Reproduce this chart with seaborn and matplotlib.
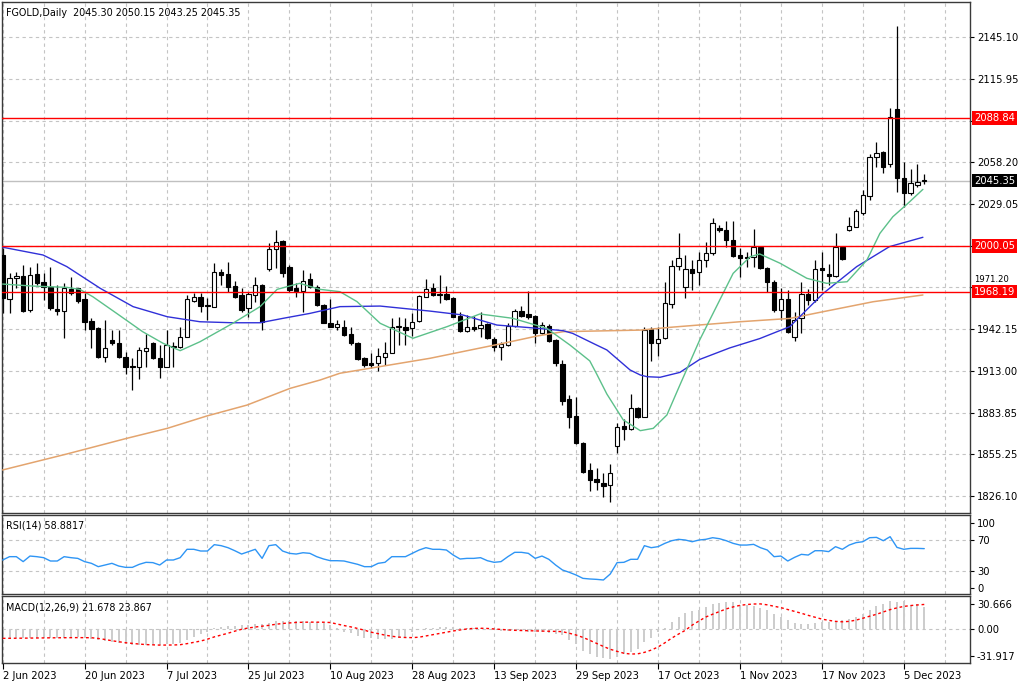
import numpy as np
import matplotlib
matplotlib.use("Agg")
import matplotlib.pyplot as plt
import matplotlib.transforms as mtransforms
import seaborn as sns

# ---------------- data ----------------
title_text = "FGOLD,Daily  2045.30 2050.15 2043.25 2045.35"
rsi_title = "RSI(14) 58.8817"
macd_title = "MACD(12,26,9) 21.678 23.867"

opens = [1993.6, 1962.8, 1977.4, 1979.0, 1955.4, 1980.2, 1975.0, 1971.1, 1955.8, 1954.7,
         1969.7, 1970.4, 1962.8, 1947.9, 1943.1, 1922.5, 1934.5, 1932.2, 1922.9, 1916.4,
         1915.5, 1927.1, 1932.6, 1921.7, 1916.0, 1930.5, 1929.4, 1936.8, 1961.8, 1964.6,
         1958.8, 1957.7, 1982.0, 1980.2, 1972.0, 1965.8, 1956.5, 1965.8, 1972.7, 1983.6,
         1997.5, 2003.5, 1985.5, 1970.4, 1968.8, 1976.7, 1971.6, 1958.8, 1946.6, 1943.8,
         1943.8, 1938.7, 1932.2, 1921.7, 1918.7, 1918.3, 1922.9, 1925.7, 1943.8, 1943.8,
         1942.6, 1947.9, 1964.6, 1970.4, 1966.3, 1966.3, 1963.9, 1951.2, 1941.0, 1943.8,
         1943.1, 1945.4, 1935.2, 1929.4, 1931.0, 1944.2, 1954.9, 1952.3, 1951.2, 1939.1,
         1944.2, 1934.5, 1917.8, 1893.3, 1881.7, 1862.7, 1844.1, 1837.7, 1835.3, 1833.7,
         1860.8, 1874.7, 1872.4, 1887.0, 1881.2, 1941.9, 1932.2, 1935.7, 1959.3, 1986.2,
         1971.6, 1983.6, 1982.0, 1990.1, 1994.7, 2012.6, 2010.9, 2004.0, 1993.6, 1992.4,
         1992.4, 1999.4, 1984.3, 1975.0, 1955.3, 1963.0, 1936.3, 1949.5, 1966.2, 1962.3,
         1984.3, 1980.1, 1979.0, 1999.4, 2010.9, 2013.2, 2022.5, 2034.6, 2061.9, 2065.4,
         2056.8, 2094.8, 2046.9, 2036.9, 2042.2, 2045.30]
highs = [1998.2, 1980.8, 1982.0, 1986.6, 1985.5, 1987.8, 1980.8, 1985.5, 1972.7, 1973.9,
         1978.5, 1970.9, 1966.9, 1949.6, 1943.8, 1948.4, 1941.5, 1941.5, 1926.4, 1921.7,
         1929.9, 1938.4, 1933.3, 1931.0, 1941.5, 1933.3, 1943.8, 1965.8, 1966.9, 1966.9,
         1963.5, 1987.8, 1983.6, 1988.9, 1975.7, 1970.4, 1968.1, 1978.5, 1973.2, 2001.7,
         2011.0, 2004.0, 1986.6, 1974.4, 1983.2, 1980.8, 1972.7, 1959.5, 1962.8, 1948.4,
         1948.4, 1943.8, 1933.3, 1922.9, 1925.2, 1928.7, 1933.3, 1949.6, 1950.7, 1949.6,
         1953.0, 1965.8, 1976.7, 1974.4, 1979.7, 1972.0, 1964.4, 1954.2, 1951.9, 1951.2,
         1954.2, 1946.1, 1936.8, 1933.3, 1946.1, 1955.8, 1958.1, 1968.6, 1951.7, 1947.2,
         1945.6, 1935.0, 1920.6, 1896.3, 1895.1, 1863.8, 1848.8, 1845.3, 1842.3, 1848.3,
         1877.0, 1879.4, 1897.0, 1887.7, 1943.8, 1943.8, 1943.8, 1975.0, 1990.1, 2008.6,
         1993.6, 1990.1, 1995.9, 2002.8, 2019.1, 2014.4, 2017.2, 2017.2, 1998.2, 1995.9,
         2011.4, 1999.9, 1985.5, 1976.2, 1970.4, 1969.2, 1954.2, 1975.0, 1969.7, 1990.1,
         1995.9, 1987.1, 2009.1, 1999.8, 2020.2, 2025.3, 2038.8, 2063.8, 2072.3, 2065.9,
         2095.5, 2152.7, 2058.4, 2053.1, 2056.8, 2050.15]
lows = [1953.0, 1953.0, 1970.4, 1954.0, 1954.2, 1972.7, 1962.3, 1955.4, 1951.9, 1935.7,
        1965.8, 1960.0, 1941.5, 1928.7, 1921.7, 1919.4, 1931.0, 1921.7, 1910.9, 1899.8,
        1907.2, 1916.0, 1921.2, 1907.9, 1915.5, 1916.0, 1928.7, 1936.3, 1961.1, 1954.2,
        1948.4, 1957.2, 1972.7, 1968.1, 1963.5, 1954.2, 1950.7, 1961.1, 1941.5, 1982.7,
        1984.3, 1978.5, 1968.1, 1964.6, 1954.2, 1970.4, 1958.1, 1946.1, 1943.3, 1941.5,
        1937.3, 1931.0, 1920.6, 1916.0, 1914.8, 1913.2, 1917.1, 1925.2, 1931.0, 1931.0,
        1937.3, 1947.2, 1964.1, 1965.1, 1960.0, 1962.3, 1950.3, 1940.3, 1940.3, 1941.0,
        1936.8, 1935.2, 1927.1, 1920.6, 1930.3, 1943.3, 1950.3, 1948.9, 1932.2, 1938.7,
        1933.3, 1916.4, 1889.3, 1873.1, 1862.2, 1841.8, 1829.8, 1830.2, 1825.6, 1822.1,
        1856.2, 1865.0, 1872.0, 1880.0, 1880.7, 1920.1, 1923.4, 1935.0, 1956.5, 1983.1,
        1963.4, 1969.2, 1972.7, 1985.5, 1993.6, 2009.8, 1999.4, 1992.4, 1978.5, 1985.5,
        1985.5, 1983.6, 1968.1, 1954.2, 1948.4, 1939.1, 1933.5, 1939.1, 1959.0, 1961.1,
        1969.2, 1972.7, 1978.5, 1990.1, 2010.5, 2012.8, 2021.4, 2031.8, 2055.0, 2050.8,
        2055.0, 2037.6, 2027.2, 2035.3, 2041.1, 2043.25]
closes = [1963.5, 1977.4, 1979.0, 1954.7, 1979.7, 1974.4, 1971.6, 1956.5, 1954.7, 1970.4,
          1966.9, 1961.8, 1947.2, 1942.1, 1922.9, 1928.7, 1932.2, 1922.5, 1915.5, 1915.5,
          1927.6, 1928.7, 1921.7, 1916.0, 1931.0, 1929.4, 1936.8, 1962.8, 1964.6, 1958.1,
          1958.1, 1982.0, 1979.7, 1971.6, 1964.6, 1955.4, 1966.5, 1972.7, 1947.2, 1997.5,
          2002.8, 1980.8, 1969.2, 1968.6, 1975.7, 1971.6, 1958.8, 1946.6, 1943.8, 1945.4,
          1938.0, 1932.6, 1921.1, 1917.1, 1917.1, 1923.4, 1925.7, 1943.8, 1944.2, 1941.5,
          1947.2, 1965.1, 1969.7, 1965.8, 1965.8, 1962.8, 1950.7, 1940.8, 1943.8, 1942.2,
          1944.9, 1935.7, 1929.9, 1931.7, 1944.2, 1954.9, 1951.2, 1950.3, 1939.1, 1944.9,
          1934.0, 1918.3, 1892.3, 1881.2, 1863.1, 1843.0, 1837.2, 1836.0, 1833.0, 1842.3,
          1873.8, 1872.4, 1887.0, 1880.7, 1941.5, 1932.2, 1935.0, 1960.0, 1986.2, 1991.2,
          1983.6, 1981.3, 1990.1, 1994.7, 2016.0, 2010.9, 2004.0, 1992.9, 1991.7, 1991.7,
          1999.4, 1984.3, 1975.0, 1955.3, 1963.0, 1940.3, 1948.4, 1966.5, 1962.3, 1983.6,
          1983.1, 1979.0, 1999.4, 1990.6, 2013.7, 2024.4, 2035.3, 2061.4, 2064.7, 2055.0,
          2089.7, 2046.9, 2036.9, 2043.4, 2044.5, 2045.35]

# moving averages (bar position, price)
ma_fast_bar = [0, 4.4, 9.4, 11.3, 13.2, 16.7, 20.5, 23.5, 26.0, 28.9, 33.7, 37.7, 40.2, 43.5,
               46.5, 49.4, 51.9, 55.3, 60.1, 65.1, 69.9, 74.7, 79.7, 83.1, 86.0, 87.0, 88.5,
               90.9, 93.4, 95.3, 97.3, 99.2, 102.1, 107.0, 109.5, 110.9, 113.9, 117.8, 120.7,
               123.7, 126.6, 128.5, 130.4, 132.5, 134.8]
ma_fast_val = [1973.4, 1972.0, 1971.1, 1969.7, 1964.6, 1953.0, 1940.3, 1932.2, 1927.1, 1933.3,
               1946.1, 1957.7, 1969.7, 1973.9, 1969.7, 1968.1, 1961.2, 1946.1, 1935.7, 1943.8,
               1952.6, 1949.6, 1942.6, 1931.0, 1920.0, 1911.0, 1897.0, 1879.0, 1871.5, 1873.1,
               1882.4, 1903.2, 1934.5, 1980.8, 1992.4, 1994.3, 1987.8, 1977.4, 1973.9, 1975.0,
               1990.1, 2008.6, 2020.2, 2029.0, 2039.2]
ma_mid_bar = [0, 5.9, 9.4, 14.3, 19.1, 24.1, 28.9, 33.7, 37.7, 41.1, 45.0, 49.4, 55.3, 62.6,
              67.4, 72.4, 77.2, 82.1, 83.5, 87.0, 88.5, 91.9, 93.4, 94.4, 96.3, 99.2, 102.1,
              106.5, 110.9, 115.3, 120.2, 125.1, 129.9, 134.8]
ma_mid_val = [1999.0, 1993.6, 1985.5, 1970.4, 1957.7, 1950.7, 1947.2, 1946.5, 1946.5, 1949.6,
              1953.0, 1957.7, 1958.1, 1954.6, 1951.9, 1944.9, 1943.1, 1941.0, 1939.1, 1931.0,
              1927.6, 1913.7, 1910.2, 1909.0, 1908.6, 1912.0, 1921.0, 1929.0, 1935.5, 1943.8,
              1966.9, 1985.5, 1999.4, 2005.9]
ma_slow_bar = [0, 9.4, 18.2, 24.1, 29.9, 35.8, 42.1, 46.5, 49.4, 62.6, 73.3, 78.3, 82.1, 93.4,
               97.7, 108.0, 115.3, 120.2, 127.5, 134.8]
ma_slow_val = [1844.2, 1855.3, 1866.2, 1873.1, 1881.7, 1889.3, 1900.9, 1906.7, 1911.4, 1921.8,
               1932.2, 1937.3, 1940.3, 1941.4, 1943.3, 1947.2, 1949.5, 1954.2, 1961.1, 1965.8]

rsi_vals = [44.2, 48.5, 48.5, 42.1, 49.3, 48.5, 47.2, 42.9, 42.9, 48.5,
            47.2, 46.3, 42.1, 39.9, 35.6, 37.7, 39.9, 36.4, 34.7, 34.7,
            38.6, 41.2, 40.8, 37.7, 44.2, 44.2, 47.2, 58.0, 58.0, 55.8,
            55.8, 64.0, 62.7, 60.1, 56.2, 51.9, 55.0, 58.0, 46.3, 62.7,
            64.0, 55.8, 52.8, 51.9, 53.6, 52.8, 48.5, 45.5, 43.3, 43.3,
            42.9, 40.8, 38.6, 35.6, 35.6, 39.9, 41.2, 48.5, 48.5, 48.5,
            52.8, 57.1, 60.1, 58.0, 58.0, 57.1, 50.6, 45.5, 46.3, 46.3,
            47.2, 43.3, 41.2, 42.1, 48.5, 54.1, 54.1, 52.8, 46.3, 49.3,
            45.1, 37.7, 31.3, 28.3, 24.8, 20.5, 19.7, 19.2, 18.4, 26.1,
            40.8, 41.2, 45.1, 45.1, 62.7, 60.1, 61.4, 65.7, 69.1, 70.9,
            70.0, 67.8, 70.0, 70.9, 73.0, 71.7, 69.1, 65.7, 63.5, 63.5,
            64.4, 60.1, 57.1, 48.5, 49.3, 42.9, 47.6, 51.5, 50.6, 56.2,
            56.2, 55.0, 61.4, 58.0, 63.5, 66.6, 67.8, 73.0, 73.4, 69.1,
            74.3, 60.5, 58.0, 59.2, 59.2, 58.88]

macd_main = [-8.5, -8.6, -8.5, -8.7, -8.2, -8.0, -8.0, -8.3, -8.5, -8.2,
             -7.8, -7.6, -8.0, -9.0, -10.0, -11.5, -12.5, -13.5, -14.5, -15.0,
             -15.0, -15.0, -15.0, -15.2, -14.5, -14.0, -13.0, -10.0, -7.5, -5.0,
             -3.0, 1.0, 2.0, 3.0, 3.5, 4.0, 4.0, 5.0, 5.0, 6.0,
             8.0, 8.0, 8.0, 7.5, 7.5, 7.0, 7.0, 6.5, 4.0, 1.5,
             -3.0, -4.0, -6.0, -8.0, -8.5, -9.0, -9.5, -9.0, -8.5, -7.0,
             -3.0, 0.5, 1.5, 1.5, 2.0, 2.5, 2.0, 1.5, 1.5, 1.0,
             1.0, 0.5, -0.5, -1.5, -2.0, -2.0, -2.0, -2.5, -2.5, -3.0,
             -4.0, -5.0, -5.5, -10.0, -14.0, -21.0, -24.0, -27.0, -28.0, -29.0,
             -27.0, -24.0, -22.0, -18.5, -12.0, -8.5, -3.0, 1.5, 7.4, 12.2,
             15.4, 17.6, 18.6, 21.8, 24.0, 25.6, 26.6, 26.0, 23.4, 23.4,
             22.8, 20.8, 18.6, 14.4, 11.5, 9.0, 6.4, 5.4, 4.8, 5.8,
             7.0, 7.4, 8.0, 9.0, 9.9, 12.2, 14.5, 18.6, 22.4, 24.0,
             27.2, 26.6, 27.2, 23.4, 24.0, 21.678]
macd_signal = [-8.7, -8.7, -8.6, -8.5, -8.5, -8.4, -8.3, -8.2, -8.2, -8.1,
               -8.0, -8.0, -8.0, -8.1, -8.8, -9.8, -11.0, -12.0, -12.9, -13.6,
               -14.2, -14.7, -15.0, -15.2, -15.2, -15.1, -14.8, -13.8, -12.6, -11.3,
               -9.5, -7.3, -5.6, -3.8, -1.8, 0.0, 1.3, 2.2, 3.0, 3.8,
               4.8, 5.6, 6.1, 6.6, 6.8, 6.9, 6.9, 6.8, 6.5, 5.0,
               3.6, 2.3, 0.8, -0.9, -2.8, -4.2, -5.6, -6.7, -7.5, -7.9,
               -8.0, -7.6, -6.4, -5.2, -4.0, -2.8, -1.6, -0.6, 0.3, 0.9,
               1.0, 0.8, 0.3, -0.1, -0.6, -1.0, -1.2, -1.4, -1.6, -1.7,
               -1.9, -2.0, -2.3, -3.8, -5.5, -7.8, -10.6, -13.6, -16.5, -19.2,
               -21.2, -23.0, -23.8, -23.6, -22.2, -20.0, -17.0, -13.0, -8.5, -4.6,
               -1.0, 4.0, 8.0, 11.8, 14.5, 17.0, 19.6, 21.5, 23.0, 23.8,
               24.3, 24.4, 23.5, 22.2, 20.8, 19.0, 17.2, 15.4, 13.4, 11.6,
               9.8, 8.6, 7.6, 7.2, 7.6, 8.8, 10.6, 12.6, 14.4, 16.6,
               18.9, 20.6, 22.0, 22.8, 23.4, 23.867]

level_prices = [2088.84, 2000.05, 1968.19]
last_price = 2045.35

price_ticks = [2145.10, 2115.95, 2087.00, 2058.20, 2029.05, 2000.00,
               1971.20, 1942.15, 1913.00, 1883.85, 1855.25, 1826.10]
price_tick_labels = ["2145.10", "2115.95", "", "2058.20", "2029.05", "",
                     "", "1942.15", "1913.00", "1883.85", "1855.25", "1826.10"]
partly_hidden_label = "1971.20"

date_labels = ["2 Jun 2023", "20 Jun 2023", "7 Jul 2023", "25 Jul 2023", "10 Aug 2023",
               "28 Aug 2023", "13 Sep 2023", "29 Sep 2023", "17 Oct 2023", "1 Nov 2023",
               "17 Nov 2023", "5 Dec 2023"]
date_label_bars = [0, 12, 24, 36, 48, 60, 72, 84, 96, 108, 120, 132]

rsi_tick_pos = [91.9, 70, 30, 8.1]
rsi_tick_labels = ["100", "70", "30", "0"]
macd_tick_pos = [24.3, 0, -25.7]
macd_tick_labels = ["30.666", "0.00", "-31.917"]

# ---------------- styling ----------------
sns.set_theme(style="white")
plt.rcParams["font.family"] = ["DejaVu Sans"]
FS = 7.2
GRID_C = "#c4c4c4"
GRID_LS = (0, (3, 3))
FRAME_C = "#3a3a3a"

fig = plt.figure(figsize=(10.24, 6.83), dpi=100)
fig.patch.set_facecolor("white")
W, H = 1024.0, 683.0
left, width = 2 / W, 968 / W
ax = fig.add_axes([left, 1 - 513 / H, width, 511 / H])
ax_rsi = fig.add_axes([left, 1 - 594 / H, width, 79 / H])
ax_macd = fig.add_axes([left, 1 - 663 / H, width, 67 / H])

bars = np.arange(len(opens))
xlim = (-0.1, 141.7)

for a in (ax, ax_rsi, ax_macd):
    a.set_facecolor("white")
    a.set_xlim(*xlim)
    for s in a.spines.values():
        s.set_color(FRAME_C)
        s.set_linewidth(1.0)
        s.set_visible(True)
    for gx in np.arange(0, 142, 6):
        a.axvline(gx, color=GRID_C, ls=GRID_LS, lw=0.8, zorder=0)
    a.yaxis.tick_right()
    a.tick_params(axis="y", direction="out", length=3, width=0.8, pad=2,
                  labelsize=FS, colors="black", right=True, left=False)
    a.tick_params(axis="x", bottom=False, labelbottom=False)
    a.grid(False)

# ---------------- main price panel ----------------
ax.set_ylim(1814.28, 2169.42)
for p in price_ticks:
    ax.axhline(p, color=GRID_C, ls=GRID_LS, lw=0.8, zorder=0)
ax.set_yticks(price_ticks)
ax.set_yticklabels(price_tick_labels)

ax.axhline(last_price, color="#c0c0c0", lw=1.0, zorder=1)

o = np.array(opens); c = np.array(closes)
hi = np.array(highs); lo = np.array(lows)
up = c >= o
ax.vlines(bars, lo, hi, color="black", lw=0.9, zorder=2)
body_bottom = np.minimum(o, c)
body_h = np.maximum(np.abs(c - o), 0.45)
ax.bar(bars[up], body_h[up], bottom=body_bottom[up], width=0.64,
       color="white", edgecolor="black", linewidth=0.8, zorder=3)
ax.bar(bars[~up], body_h[~up], bottom=body_bottom[~up], width=0.64,
       color="black", edgecolor="black", linewidth=0.8, zorder=3)

sns.lineplot(x=ma_slow_bar, y=ma_slow_val, ax=ax, color="#e3a46e", lw=1.1,
             estimator=None, sort=False, zorder=4)
sns.lineplot(x=ma_mid_bar, y=ma_mid_val, ax=ax, color="#3030d8", lw=1.0,
             estimator=None, sort=False, zorder=4)
sns.lineplot(x=ma_fast_bar, y=ma_fast_val, ax=ax, color="#5cc08a", lw=1.0,
             estimator=None, sort=False, zorder=4)

for lv in level_prices:
    ax.axhline(lv, color="red", lw=1.0, zorder=5)

bt = mtransforms.blended_transform_factory(ax.transAxes, ax.transData)
box_x = 1.0 + 4 / 968
for lv in level_prices:
    ax.text(box_x, lv, f"{lv:.2f}", transform=bt, ha="left", va="center",
            fontsize=FS, color="white", clip_on=False, zorder=10,
            bbox=dict(boxstyle="square,pad=0.18", fc="#ff0000", ec="none"))
ax.text(box_x, last_price, f"{last_price:.2f}", transform=bt, ha="left",
        va="center", fontsize=FS, color="white", clip_on=False, zorder=10,
        bbox=dict(boxstyle="square,pad=0.18", fc="black", ec="none"))

# grid label that sits just above the 1968.19 box (mostly hidden in the reference)
ax.annotate(partly_hidden_label, xy=(box_x, level_prices[2]), xycoords=bt,
            xytext=(0, 5.6), textcoords="offset points", ha="left", va="bottom",
            fontsize=FS * 0.85, color="black", annotation_clip=False, zorder=9)

ax.text(4 / 968, 1 - 11 / 511, title_text, transform=ax.transAxes, ha="left",
        va="center", fontsize=6.9, color="black", zorder=10)

# ---------------- RSI panel ----------------
ax_rsi.set_ylim(0.3, 102.3)
for g in (30, 70):
    ax_rsi.axhline(g, color=GRID_C, ls=GRID_LS, lw=0.8, zorder=0)
sns.lineplot(x=bars, y=rsi_vals, ax=ax_rsi, color="#2e95f5", lw=1.0,
             estimator=None, sort=False, zorder=3)
ax_rsi.set_yticks(rsi_tick_pos)
ax_rsi.set_yticklabels(rsi_tick_labels)
ax_rsi.text(4 / 968, 1 - 10 / 79, rsi_title, transform=ax_rsi.transAxes,
            ha="left", va="center", fontsize=6.9, color="black")

# ---------------- MACD panel ----------------
ax_macd.set_ylim(-32.4, 32.0)
ax_macd.axhline(0, color=GRID_C, ls=GRID_LS, lw=0.8, zorder=0)
ax_macd.vlines(bars, 0, macd_main, color="#cccccc", lw=1.4, zorder=2)
sns.lineplot(x=bars, y=macd_signal, ax=ax_macd, color="red", lw=1.0,
             linestyle=(0, (2, 2)), estimator=None, sort=False, zorder=3)
ax_macd.set_yticks(macd_tick_pos)
ax_macd.set_yticklabels(macd_tick_labels)
ax_macd.text(4 / 968, 1 - 11 / 67, macd_title, transform=ax_macd.transAxes,
             ha="left", va="center", fontsize=6.9, color="black")

ax_macd.tick_params(axis="x", bottom=True, labelbottom=True, direction="out",
                    length=4, width=0.8, pad=1.5, labelsize=FS, colors="black")
ax_macd.set_xticks(date_label_bars)
ax_macd.set_xticklabels(date_labels, ha="left")

for a in (ax, ax_rsi, ax_macd):
    a.set_xlabel("")
    a.set_ylabel("")
    leg = a.get_legend()
    if leg is not None:
        leg.remove()

fig.savefig("out.png", dpi=100, facecolor="white")
